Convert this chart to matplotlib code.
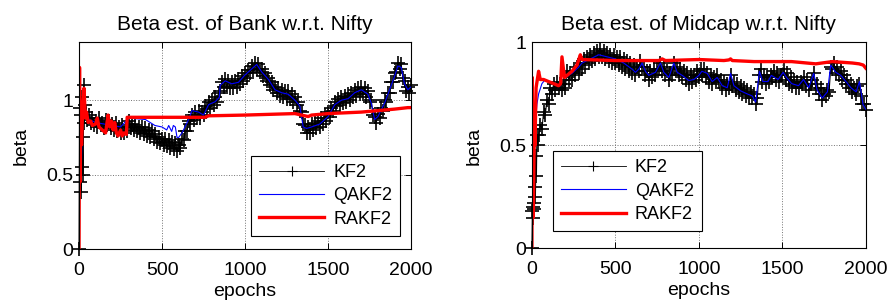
import numpy as np
import matplotlib.pyplot as plt

plt.rcParams['font.family'] = ['Liberation Sans', 'DejaVu Sans']

# ---------------- Bank w.r.t. Nifty ----------------
bank_kf2_early_x = [0, 3, 6, 9, 12, 15, 18, 21, 24, 27, 30, 35]
bank_kf2_early_y = [0.0, 0.95, 0.45, 0.9, 0.38, 1.02, 0.55, 0.75, 0.5, 1.1, 0.85, 0.97]
# KF2 every 10 epochs from 40 to 2000
bank_kf2_y = [
    0.92, 0.87, 0.90, 0.85, 0.88, 0.83, 0.86, 0.82, 0.88, 0.83,
    0.85, 0.81, 0.87, 0.83, 0.86, 0.81, 0.84, 0.80, 0.85, 0.79,
    0.82, 0.78, 0.83, 0.78, 0.82, 0.79, 0.86, 0.81, 0.84, 0.80,
    0.83, 0.79, 0.82, 0.78, 0.82, 0.77, 0.81, 0.76, 0.80, 0.75,
    0.79, 0.74, 0.77, 0.72, 0.75, 0.71, 0.74, 0.70, 0.74, 0.69,
    0.73, 0.68, 0.72, 0.67, 0.71, 0.66, 0.70, 0.68, 0.74, 0.73,
    0.79, 0.79, 0.86, 0.84, 0.90, 0.87, 0.92, 0.88, 0.93, 0.88,
    0.92, 0.90, 0.96, 0.94, 0.99, 0.95, 1.00, 0.97, 1.02, 0.99,
    1.05, 1.06, 1.12, 1.09, 1.14, 1.09, 1.13, 1.08, 1.12, 1.08,
    1.13, 1.09, 1.14, 1.11, 1.16, 1.13, 1.18, 1.15, 1.20, 1.18,
    1.23, 1.20, 1.25, 1.21, 1.24, 1.19, 1.21, 1.16, 1.18, 1.13,
    1.15, 1.10, 1.12, 1.07, 1.09, 1.05, 1.08, 1.03, 1.07, 1.02,
    1.06, 1.01, 1.06, 1.01, 1.04, 0.99, 1.02, 0.97, 0.99, 0.93,
    0.92, 0.84, 0.83, 0.78, 0.82, 0.78, 0.84, 0.80, 0.85, 0.81,
    0.86, 0.82, 0.88, 0.84, 0.90, 0.86, 0.92, 0.89, 0.95, 0.93,
    0.99, 0.96, 1.01, 0.97, 1.02, 0.98, 1.03, 0.99, 1.04, 1.00,
    1.05, 1.02, 1.07, 1.03, 1.08, 1.04, 1.09, 1.04, 1.08, 1.02,
    1.06, 0.99, 1.00, 0.90, 0.89, 0.85, 0.91, 0.88, 0.95, 0.93,
    1.00, 0.99, 1.05, 1.05, 1.12, 1.12, 1.18, 1.19, 1.25, 1.21,
    1.24, 1.15, 1.13, 1.06, 1.09, 1.05, 1.10]

bank_qakf2_x = [0, 3, 6, 10, 15, 20, 30, 40, 60, 100, 150, 200, 250, 300, 350,
                400, 457, 500, 528, 540, 558, 568, 580, 590, 600, 620, 660,
                680, 720, 750, 780, 820, 845, 850, 880, 920, 960, 1000, 1030,
                1070, 1100, 1140, 1180, 1220, 1260, 1300, 1330, 1350, 1370,
                1400, 1450, 1500, 1540, 1580, 1620, 1660, 1700, 1740, 1760,
                1780, 1800, 1840, 1870, 1900, 1920, 1940, 1960, 1980, 2000]
bank_qakf2_y = [0.0, 1.0, 0.5, 0.95, 0.6, 1.0, 1.0, 0.9, 0.87, 0.85, 0.84, 0.83,
                0.82, 0.88, 0.875, 0.87, 0.83, 0.82, 0.80, 0.83, 0.79, 0.83,
                0.82, 0.75, 0.75, 0.78, 0.87, 0.93, 0.92, 0.90, 0.97, 0.99,
                1.02, 1.10, 1.13, 1.11, 1.12, 1.17, 1.20, 1.24, 1.19, 1.14,
                1.07, 1.05, 1.04, 1.00, 0.96, 0.82, 0.81, 0.82, 0.84, 0.89,
                0.97, 1.00, 1.01, 1.05, 1.07, 1.04, 0.98, 0.87, 0.89, 0.98,
                1.07, 1.16, 1.23, 1.22, 1.11, 1.07, 1.09]

bank_rakf2_x = [0, 3, 6, 10, 15, 22, 30, 38, 45, 55, 70, 80, 100, 110, 120, 140,
                160, 175, 185, 195, 205, 215, 225, 235, 250, 260, 270, 285, 290,
                500, 760, 780, 1000, 1300, 1380, 1400, 1500, 1700, 1800, 1900,
                1980, 2000]
bank_rakf2_y = [0.0, 1.22, 0.45, 0.9, 0.7, 0.95, 1.08, 0.88, 0.92, 0.85, 0.86,
                0.83, 0.84, 0.88, 0.82, 0.80, 0.78, 0.90, 0.82, 0.86, 0.80, 0.85,
                0.78, 0.76, 0.80, 0.76, 0.78, 0.77, 0.885, 0.885, 0.885, 0.895,
                0.90, 0.91, 0.89, 0.90, 0.91, 0.92, 0.93, 0.94, 0.95, 0.95]

# ---------------- Midcap w.r.t. Nifty ----------------
mid_kf2_early_x = [0, 3, 6, 9, 12, 15, 18, 21, 24, 27, 30, 35]
mid_kf2_early_y = [0.0, 0.18, 0.2, 0.15, 0.22, 0.19, 0.3, 0.25, 0.45, 0.35, 0.55, 0.5]
mid_kf2_y = [
    0.55, 0.60, 0.58, 0.66, 0.65, 0.72, 0.70, 0.78, 0.75, 0.80,
    0.77, 0.81, 0.78, 0.80, 0.77, 0.80, 0.78, 0.86, 0.82, 0.85,
    0.82, 0.86, 0.84, 0.88, 0.85, 0.90, 0.87, 0.92, 0.89, 0.93,
    0.90, 0.94, 0.91, 0.95, 0.92, 0.96, 0.93, 0.97, 0.93, 0.96,
    0.92, 0.95, 0.91, 0.94, 0.90, 0.94, 0.90, 0.93, 0.89, 0.93,
    0.88, 0.92, 0.87, 0.91, 0.86, 0.90, 0.85, 0.89, 0.84, 0.88,
    0.86, 0.91, 0.88, 0.88, 0.84, 0.86, 0.82, 0.86, 0.83, 0.87,
    0.84, 0.87, 0.87, 0.90, 0.86, 0.88, 0.84, 0.86, 0.82, 0.85,
    0.84, 0.90, 0.87, 0.88, 0.84, 0.87, 0.83, 0.86, 0.82, 0.85,
    0.80, 0.84, 0.81, 0.84, 0.82, 0.86, 0.83, 0.87, 0.84, 0.87,
    0.83, 0.85, 0.81, 0.84, 0.80, 0.83, 0.82, 0.84, 0.81, 0.82,
    0.78, 0.81, 0.77, 0.80, 0.78, 0.84, 0.79, 0.81, 0.77, 0.80,
    0.76, 0.79, 0.75, 0.78, 0.74, 0.77, 0.73, 0.76, 0.73, 0.75,
    0.70, 0.73, 0.84, 0.87, 0.81, 0.84, 0.80, 0.83, 0.81, 0.84,
    0.83, 0.86, 0.82, 0.85, 0.81, 0.84, 0.84, 0.87, 0.82, 0.85,
    0.80, 0.83, 0.79, 0.82, 0.78, 0.81, 0.78, 0.81, 0.80, 0.83,
    0.79, 0.82, 0.77, 0.80, 0.82, 0.85, 0.78, 0.80, 0.75, 0.78,
    0.72, 0.75, 0.74, 0.77, 0.76, 0.88, 0.87, 0.90, 0.85, 0.88,
    0.84, 0.86, 0.82, 0.84, 0.80, 0.82, 0.78, 0.80, 0.76, 0.78,
    0.75, 0.79, 0.80, 0.74, 0.70, 0.70, 0.67]

mid_qakf2_x = [0, 3, 8, 15, 20, 30, 40, 60, 80, 100, 140, 170, 180, 200, 240,
               280, 300, 350, 400, 450, 500, 550, 600, 620, 640, 660, 680, 700,
               740, 770, 790, 820, 850, 870, 900, 940, 970, 1000, 1018, 1050,
               1080, 1110, 1140, 1170, 1190, 1210, 1250, 1290, 1320, 1340, 1363,
               1383, 1414, 1434, 1475, 1505, 1525, 1556, 1597, 1627, 1658, 1688,
               1708, 1739, 1770, 1790, 1820, 1850, 1881, 1911, 1942, 1962, 1983,
               2000]
mid_qakf2_y = [0.0, 0.8, 0.15, 0.5, 0.6, 0.7, 0.75, 0.8, 0.82, 0.81, 0.80, 0.79,
               0.86, 0.83, 0.85, 0.88, 0.90, 0.92, 0.94, 0.93, 0.92, 0.90, 0.87,
               0.855, 0.87, 0.90, 0.86, 0.84, 0.855, 0.90, 0.855, 0.83, 0.90,
               0.855, 0.84, 0.815, 0.82, 0.84, 0.86, 0.85, 0.81, 0.83, 0.79,
               0.78, 0.85, 0.79, 0.765, 0.75, 0.74, 0.71, 0.86, 0.81, 0.81,
               0.84, 0.82, 0.855, 0.83, 0.80, 0.79, 0.82, 0.78, 0.85, 0.77,
               0.73, 0.76, 0.89, 0.855, 0.84, 0.81, 0.78, 0.76, 0.81, 0.70,
               0.675]

mid_rakf2_x = [0, 2, 8, 15, 18, 25, 40, 50, 70, 100, 130, 160, 172, 180, 195,
               240, 270, 290, 300, 500, 760, 780, 800, 1000, 1150, 1180, 1190,
               1200, 1330, 1555, 1700, 1800, 1920, 1960, 1985, 2000]
mid_rakf2_y = [0.0, 0.83, 0.15, 0.6, 0.5, 0.78, 0.86, 0.82, 0.82, 0.81, 0.80,
               0.79, 0.80, 0.93, 0.83, 0.86, 0.89, 0.94, 0.917, 0.912, 0.912,
               0.92, 0.912, 0.917, 0.912, 0.915, 0.92, 0.912, 0.907, 0.907,
               0.896, 0.907, 0.90, 0.896, 0.89, 0.875]

kf2_grid = np.arange(40, 2001, 10)

panels = [
    ('Beta est. of Bank w.r.t. Nifty', bank_kf2_early_x, bank_kf2_early_y, bank_kf2_y,
     bank_qakf2_x, bank_qakf2_y, bank_rakf2_x, bank_rakf2_y, 1.39,
     [0.089, 0.178, 0.374, 0.683], 'lower right', (0.995, 0.02)),
    ('Beta est. of Midcap w.r.t. Nifty', mid_kf2_early_x, mid_kf2_early_y, mid_kf2_y,
     mid_qakf2_x, mid_qakf2_y, mid_rakf2_x, mid_rakf2_y, 1.0,
     [0.599, 0.180, 0.376, 0.680], 'lower left', (0.035, 0.04)),
]

fig = plt.figure(figsize=(8.88, 3.03), dpi=100)

for (title, ex, ey, ky, qx, qy, rx, ry, ytop, rect, lloc, anchor) in panels:
    ax = fig.add_axes(rect)
    kx = np.concatenate([ex, kf2_grid])
    kyy = np.concatenate([ey, ky])
    ax.plot(kx, kyy, color='black', lw=0.8, marker='+', ms=10, mew=1.2,
            label='KF2', clip_on=False)
    ax.plot(qx, qy, color='blue', lw=0.8, label='QAKF2')
    ax.plot(rx, ry, color='red', lw=2.4, label='RAKF2')

    ax.set_xlim(0, 2000)
    ax.set_ylim(0, ytop)
    ax.set_xticks([0, 500, 1000, 1500, 2000])
    ax.set_yticks([0, 0.5, 1])
    ax.set_yticklabels(['0', '0.5', '1'])
    ax.grid(True, color='0.45', linestyle=':', lw=0.7)
    ax.tick_params(direction='in', top=True, right=True, length=4,
                   labelsize=14, width=0.7)
    ax.tick_params(axis='x', pad=9)
    ax.tick_params(axis='y', pad=4)
    for s in ax.spines.values():
        s.set_linewidth(0.8)
    ax.set_title(title, fontsize=15, pad=9)
    ax.set_xlabel('epochs', fontsize=14, labelpad=3)
    ax.set_ylabel('beta', fontsize=14, labelpad=12)
    leg = ax.legend(loc=lloc, bbox_to_anchor=anchor, fontsize=13, numpoints=1,
                    handlelength=3.6, handletextpad=0.5, labelspacing=0.35,
                    borderpad=0.45, fancybox=False, framealpha=1,
                    edgecolor='black')
    leg.get_frame().set_linewidth(0.8)
    leg.get_lines()[0].set_markersize(7)
    leg.get_lines()[0].set_markeredgewidth(0.8)
    leg.get_lines()[0].set_linewidth(0.6)

plt.savefig('out.png', dpi=100)
